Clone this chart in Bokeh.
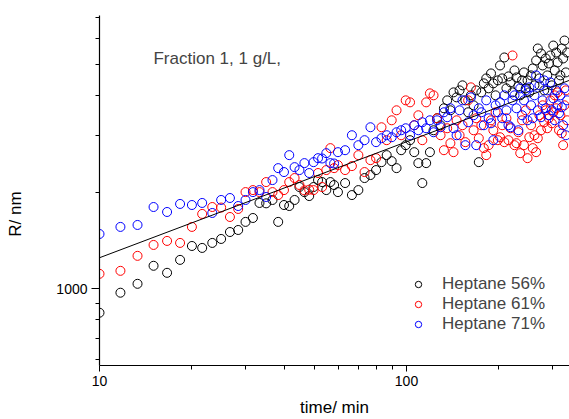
from bokeh.plotting import figure
from bokeh.models import (FixedTicker, NumeralTickFormatter, Legend, LegendItem,
                          Label, Range1d)
from bokeh.embed import file_html
from bokeh.resources import INLINE

# ---------------- data ----------------
time_min = [10.0, 11.7, 13.3, 15.0, 16.6, 18.3, 20.0, 21.6, 23.3, 24.9,
            26.6, 28.3, 29.9, 31.6, 33.2, 34.9, 36.6, 38.2, 39.9, 41.5,
            43.2, 44.8, 46.5, 48.2, 49.8, 51.5, 53.1, 54.8, 56.5, 58.1,
            59.8, 63.1, 66.4, 69.7, 73.0, 76.3, 79.6, 82.9, 86.2, 89.5,
            92.8, 96.1, 99.4, 102.7, 106.0, 109.3, 112.6, 115.9, 119.2, 122.5,
            125.8, 129.1, 132.4, 135.7, 139.0, 142.3, 145.6, 148.9, 152.2, 155.5,
            158.8, 162.1, 165.4, 168.7, 172.0, 175.3, 178.6, 181.9, 185.2, 188.5,
            191.8, 195.1, 198.4, 201.7, 205.0, 208.3, 211.6, 214.9, 218.2, 221.5,
            224.8, 228.1, 231.4, 234.7, 238.0, 241.3, 244.6, 247.9, 251.2, 254.5,
            257.8, 261.1, 264.4, 267.7, 271.0, 274.3, 277.6, 280.9, 284.2, 287.5,
            290.8, 294.1, 297.4, 300.7, 304.0, 307.3, 310.6, 313.9, 317.2, 320.5,
            323.8, 327.1, 330.4, 333.7]

r_heptane_56 = [842, 972, 1036, 1179, 1121, 1230, 1359, 1340, 1389, 1429,
                1502, 1524, 1615, 1661, 1850, 1845, 1890, 1615, 1823, 1810,
                1890, 2074, 2000, 1944, 2074, 2180, 2149, 2029, 2149, 2104,
                2000, 2134, 1958, 2029, 2212, 2260, 2342, 2479, 2607, 2497,
                2375, 2701, 2800, 2902, 2663, 2462, 2134, 2462, 2663, 3116,
                3396, 3230, 3648, 3862, 3596, 4089, 3946, 4148, 4300, 3862,
                3545, 4003, 3727, 4148, 2479, 4089, 4362, 4520, 4209, 4684,
                4362, 4003, 4456, 4960, 4520, 5252, 4209, 4585, 4393, 4089,
                4786, 4552, 4269, 4003, 4456, 4718, 4209, 4456, 4089, 4618,
                4854, 4300, 5140, 5601, 4520, 5404, 4960, 4148, 5215, 4618,
                5031, 5328, 4300, 5720, 4786, 5442, 5067, 4456, 4618, 5601,
                5215, 5930, 4718, 5442]

r_heptane_61 = [1113, 1137, 1266, 1369, 1409, 1389, 1558, 1710, 1797, 1790,
                1673, 1772, 2000, 2029, 2000, 2149, 2000, 1958, 2029, 2149,
                2212, 2104, 2025, 2035, 2029, 2293, 2074, 2342, 2741, 2375,
                2427, 2342, 2410, 2607, 2309, 2515, 2551, 3184, 2902, 3347,
                3596, 3007, 3862, 3807, 3230, 3470, 2902, 3807, 4060, 4003,
                3396, 3007, 2701, 3161, 2840, 2663, 3347, 3007, 3230, 2861,
                3862, 4239, 3116, 3396, 2943, 3230, 2741, 2607, 2800, 3347,
                3116, 3545, 2902, 2964, 3230, 2861, 3396, 2902, 3161, 5328,
                2800, 2840, 3072, 2644, 3347, 2800, 3596, 2551, 2964, 3230,
                2741, 3007, 2663, 2943, 3470, 3116, 3727, 3300, 3596, 3161,
                3396, 3862, 3276, 3545, 4003, 3648, 4089, 3116, 3470, 3050,
                2800, 3727, 4148, 3347]

r_heptane_71 = [1481, 1558, 1580, 1797, 1734, 1837, 1823, 1850, 1722, 1890,
                1917, 1810, 1890, 2000, 2029, 1931, 2180, 2375, 2309, 2607,
                2392, 2342, 2462, 2293, 2479, 2551, 2545, 2644, 2462, 2455,
                2663, 2701, 3007, 2800, 2902, 3184, 2861, 2943, 3007, 2964,
                3072, 3116, 3161, 3007, 3230, 3116, 3300, 3161, 3347, 3072,
                3347, 3184, 3545, 3421, 3648, 3161, 3007, 3596, 3862, 2800,
                3300, 3946, 3470, 2800, 3648, 3545, 3230, 3862, 3396, 3276,
                2902, 3727, 3545, 3807, 3396, 4003, 3596, 3230, 3184, 3862,
                4003, 3648, 3116, 4209, 3470, 3862, 4148, 3347, 4239, 3727,
                3396, 4003, 4618, 3596, 4300, 3421, 3862, 4456, 3648, 4148,
                3470, 4393, 3596, 3918, 3347, 4148, 3727, 3520, 4003, 3674,
                3230, 4209, 3007, 3862]

fit_time = [10.0, 339.6]
fit_r = [1249, 4459]

series_labels = ["Heptane 56%", "Heptane 61%", "Heptane 71%"]
series_colors = ["black", "#FF0000", "#0000FF"]

x_major = [10, 100, 1000]
x_minor = [20, 30, 40, 50, 60, 70, 80, 90, 200, 300, 400, 500, 600, 700, 800, 900]
y_major = [100, 1000, 10000]
y_minor = [500, 600, 700, 800, 900, 2000, 3000, 4000, 5000, 6000, 7000, 8000, 9000]

FONT = "Liberation Sans"
NBSP = "\u00a0"

# ---------------- figure ----------------
p = figure(width=569, height=419, x_axis_type="log", y_axis_type="log",
           x_range=Range1d(10, 339.6), y_range=Range1d(576.7, 7096),
           output_backend="svg", toolbar_location=None,
           min_border_left=99, min_border_right=0, min_border_top=15,
           min_border_bottom=53)
p.outline_line_color = None
p.xgrid.visible = False
p.ygrid.visible = False
p.background_fill_color = "white"
p.border_fill_color = "white"

for ax, maj, mnr, tout in ((p.xaxis, x_major, x_minor, 6), (p.yaxis, y_major, y_minor, 8)):
    ax.ticker = FixedTicker(ticks=maj, minor_ticks=mnr)
    ax.formatter = NumeralTickFormatter(format="0")
    ax.axis_line_color = "black"
    ax.axis_line_width = 1.2
    ax.major_tick_line_color = "black"
    ax.minor_tick_line_color = "black"
    ax.major_tick_in = 0
    ax.major_tick_out = tout
    ax.minor_tick_in = 0
    ax.minor_tick_out = 4
    ax.major_label_text_font = FONT
    ax.major_label_text_font_size = "14px"
    ax.major_label_text_color = "black"
    ax.major_label_standoff = 4
    ax.axis_label_text_font = FONT
    ax.axis_label_text_font_size = "17px"
    ax.axis_label_text_font_style = "normal"
    ax.axis_label_text_color = "black"

p.xaxis.axis_label = "time/ min"
p.xaxis.axis_label_standoff = 9
p.yaxis.axis_label = "R/ nm" + NBSP * 10
p.yaxis.axis_label_standoff = 28

renderers = []
for vals, col in zip((r_heptane_56, r_heptane_61, r_heptane_71), series_colors):
    r = p.scatter(time_min, vals, marker="circle", size=9, fill_color=None,
                  line_color=col, line_width=1)
    renderers.append(r)

p.line(fit_time, fit_r, line_color="black", line_width=1)

legend = Legend(items=[LegendItem(label=l, renderers=[r]) for l, r in zip(series_labels, renderers)],
                location=(309, 31), border_line_color=None, background_fill_alpha=0,
                padding=0, margin=0, spacing=0, glyph_width=20, glyph_height=16,
                label_height=16, label_standoff=14,
                label_text_font=FONT, label_text_font_size="17px")
p.add_layout(legend)

p.add_layout(Label(x=14.99, y=5217, text="Fraction 1, 1 g/L,", text_font=FONT,
                   text_font_size="17px", text_baseline="middle", text_align="left"))

open("out.html", "w").write(file_html(p, INLINE))
